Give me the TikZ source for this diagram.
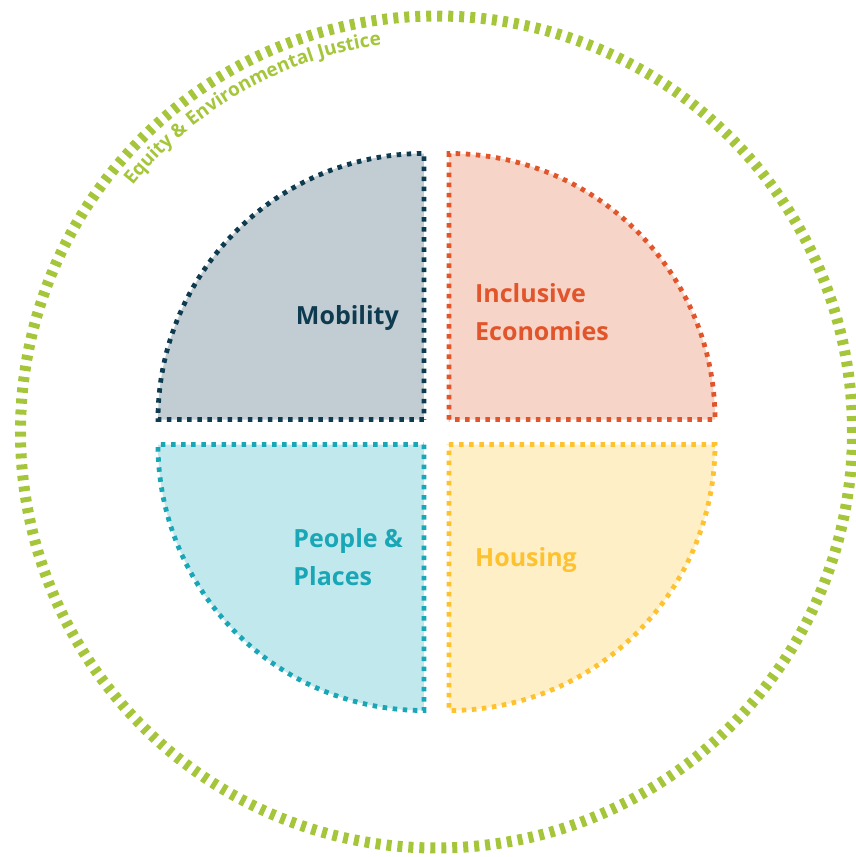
\documentclass[tikz,border=0pt]{standalone}
\usepackage{fontspec}
\setmainfont{Open Sans}
\usetikzlibrary{decorations.text}

\definecolor{ringgreen}{HTML}{A5C63B}
\definecolor{mobline}{HTML}{0E3B50}
\definecolor{mobfill}{HTML}{C2CDD3}
\definecolor{econline}{HTML}{E2552B}
\definecolor{econfill}{HTML}{F6D4C7}
\definecolor{peopleline}{HTML}{19A6B6}
\definecolor{peoplefill}{HTML}{C1E8EC}
\definecolor{houseline}{HTML}{FDC22E}
\definecolor{housefill}{HTML}{FEEFC7}

\begin{document}
\begin{tikzpicture}[x=1pt, y=1pt,
                quarter/.style={line width=4.8pt, dash pattern=on 4.5pt off 5.6pt},
                ring/.style={draw=ringgreen, line width=11pt, dash pattern=on 5pt off 5.98pt},
                label/.style={font=\fontsize{25}{38}\selectfont\bfseries, inner sep=0pt, align=left}
            ]
            \clip (-436.5,-425) rectangle (419.5,432);

            % Outer ring
            \draw[ring] (0,0) circle[radius=416];
            \path[decorate, decoration={text along path, text color=ringgreen,
                text={|\fontsize{19}{19}\selectfont\bfseries|Equity {\&} Environmental Justice}}]
                (141:391) arc[start angle=141, end angle=95, radius=391];

            % Quarters
            \draw[quarter, draw=mobline, fill=mobfill] (-12.5,12.5) -- ++(-266,0)
                arc[start angle=180, end angle=90, radius=266] -- cycle;
            \draw[quarter, draw=econline, fill=econfill] (12.5,12.5) -- ++(0,266)
                arc[start angle=90, end angle=0, radius=266] -- cycle;
            \draw[quarter, draw=houseline, fill=housefill] (12.5,-12.5) -- ++(266,0)
                arc[start angle=0, end angle=-90, radius=266] -- cycle;
            \draw[quarter, draw=peopleline, fill=peoplefill] (-12.5,-12.5) -- ++(0,-266)
                arc[start angle=270, end angle=180, radius=266] -- cycle;

            % Labels (base = last line)
            \node[label, text=mobline, anchor=base east] (mob) at (-37.5,107) {Mobility};
            \node[label, text=econline, anchor=base west] (econ) at (38.5,92) {Inclusive\\Economies};
            \node[label, text=houseline, anchor=base west] (housing) at (38.5,-134.7) {Housing};
            \node[label, text=peopleline, anchor=base west] (people) at (-143.2,-153) {People \&\\Places};
\end{tikzpicture}
\end{document}
